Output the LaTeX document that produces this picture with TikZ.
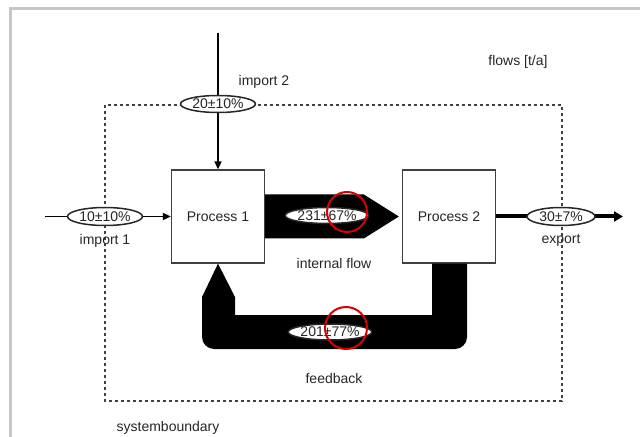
\documentclass[tikz,border=0pt]{standalone}
\usepackage{fontspec}
\setmainfont{Liberation Sans}
\usetikzlibrary{arrows.meta,calc,shapes.geometric}

\begin{document}
\begin{tikzpicture}[x=1bp,y=-1bp,
  font=\fontsize{14bp}{16bp}\selectfont,
  proc/.style={draw=black!75, line width=1.3bp, fill=white, minimum width=93bp,
               minimum height=93bp, inner sep=0pt, text=black!85},
  val/.style={ellipse, draw=black!85, line width=1.5bp, fill=white, inner sep=0pt,
              text=black!85},
  lbl/.style={inner sep=0pt, text=black!85},
  boundary/.style={draw=black!75, line width=1.2bp, dash pattern=on 3bp off 3bp},
  inflow/.style={draw=black, line width=1.8bp, -{Triangle[length=8bp,width=7bp]}},
  outflow/.style={draw=black, line width=4bp, -{Triangle[length=9bp,width=10bp]}},
  band/.style={fill=black},
  redring/.style={draw=red!85!black, line width=2bp, circle, inner sep=0pt}
]
\useasboundingbox (0,0) rectangle (640,437);

% light frame along the top and left edges
\draw[black!22, line width=3bp] (10,437) -- (10,9) -- (640,9);

% system boundary
\draw[boundary] (105,105) rectangle (562,401);

% processes
\node[proc] (p1) at (218,216.5) {Process 1};
\node[proc] (p2) at (449,216.5) {Process 2};

% loose ends of the outer flows
\coordinate (src2) at (218,33);
\coordinate (src1) at (45,216.5);
\coordinate (sink) at (623,216.5);

% import and export flows
\draw[inflow] (src2) -- (p1.north);
\draw[inflow] (src1) -- (p1.west);
\draw[outflow] (p2.east) -- (sink);

% internal flow, drawn as a broad arrow
\fill[band] ($(p1.east)+(0,-22)$) -- ($(p2.west)+(-38,-22)$) -- ($(p2.west)+(-3,0)$)
  -- ($(p2.west)+(-38,22)$) -- ($(p1.east)+(0,22)$) -- cycle;

% feedback flow, a broad U from process 2 back to process 1
\fill[band] ($(p2.south)+(18,0)$) -- (467,337) arc[start angle=0,end angle=90,radius=12]
  -- (214,349) arc[start angle=90,end angle=180,radius=12]
  -- (202,297) -- (p1.south) -- (235,297) -- (235,315) -- (432,315)
  -- ($(p2.south)+(-17,0)$) -- cycle;

% flow values
\node[val, minimum width=75bp, minimum height=17bp] (v2) at (218,104) {20±10\%};
\node[val, minimum width=75bp, minimum height=18bp] (v1) at (105,216.5) {10±10\%};
\node[val, minimum width=68bp, minimum height=18bp] (v3) at (561,216.5) {30±7\%};
\node[val, minimum width=70bp, minimum height=16bp] (vi) at (327,215.5) {231±67\%};
\node[val, minimum width=75bp, minimum height=16bp] (vf) at (330,332) {201±77\%};

% highlight rings
\node[redring, minimum size=40bp] (r1) at (347,212) {};
\node[redring, minimum size=42bp] (r2) at (346,328) {};

% labels
\node[lbl] (l0) at (518,62) {flows [t/a]};
\node[lbl] (l1) at (264,82) {import 2};
\node[lbl] (l2) at (105,241) {import 1};
\node[lbl] (l3) at (561,240) {export};
\node[lbl] (l4) at (334,263) {internal flow};
\node[lbl] (l5) at (334,378) {feedback};
\node[lbl] (l6) at (168,428) {systemboundary};
\end{tikzpicture}
\end{document}
